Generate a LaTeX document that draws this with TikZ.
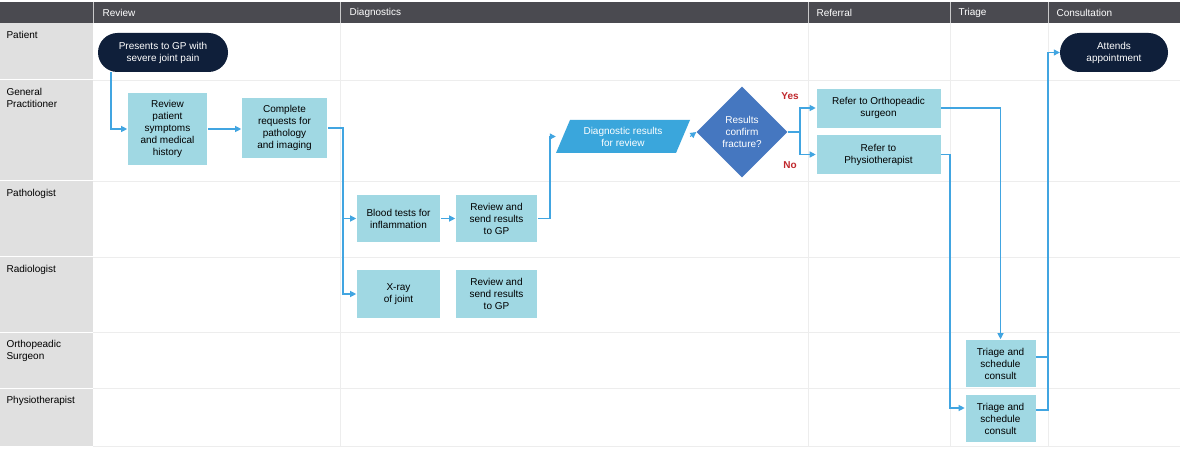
\documentclass[tikz,border=0pt]{standalone}
\usepackage{fontspec}
\setmainfont{Liberation Sans}
\usetikzlibrary{shapes.geometric,arrows.meta}
\definecolor{hdr}{HTML}{4A4A50}
\definecolor{side}{HTML}{E0E0E0}
\definecolor{grid}{HTML}{EDEDED}
\definecolor{boxc}{HTML}{A0D8E3}
\definecolor{para}{HTML}{3AA6DC}
\definecolor{dia}{HTML}{4577C0}
\definecolor{dark}{HTML}{0F1F3A}
\definecolor{arr}{HTML}{41A5E1}
\definecolor{lab}{HTML}{C0282D}
\tikzset{
 proc/.style={fill=boxc,draw=white,line width=0.6pt,align=center,inner sep=0pt,font=\fontsize{10}{12}\selectfont},
 term/.style={fill=dark,rounded corners=19.5pt,text=white,align=center,inner sep=0pt,font=\fontsize{10}{12}\selectfont},
 conn/.style={draw=arr,line width=1.1pt,-{Triangle[length=6pt,width=6pt]}},
 htxt/.style={text=white,anchor=west,font=\fontsize{10}{12}\selectfont},
 ltxt/.style={anchor=north west,align=left,font=\fontsize{10}{12}\selectfont},
}
\begin{document}
\begin{tikzpicture}[x=1pt,y=-1pt]
\useasboundingbox (0,0) rectangle (1180,454);
\fill[white] (0,0) rectangle (1180,454);
% side column & header
\fill[side] (0,23) rectangle (93,446);
\fill[hdr] (0,2) rectangle (1180,23);
\foreach \x in {93,340,808,950,1048}{\draw[white!70!hdr,line width=1pt] (\x,2)--(\x,23);}
\foreach \x in {340,808,950,1048}{\draw[grid,line width=0.8pt] (\x,23)--(\x,446);}
\foreach \y in {80,181,257,332,388}{\draw[white,line width=1pt] (0,\y)--(93,\y);\draw[grid,line width=0.8pt] (93,\y)--(1180,\y);}
\draw[grid,line width=0.8pt] (93,446)--(1180,446);
\node[htxt] (hr) at (99,13) {Review};
\node[htxt] (hd) at (346,13) {Diagnostics};
\node[htxt] (hf) at (813,13) {Referral};
\node[htxt] (ht) at (955,13) {Triage};
\node[htxt] (hc) at (1053,13) {Consultation};
\node[ltxt] (l1) at (3,28) {Patient};
\node[ltxt] (l2) at (3,85) {General\\Practitioner};
\node[ltxt] (l3) at (3,186) {Pathologist};
\node[ltxt] (l4) at (3,262) {Radiologist};
\node[ltxt] (l5) at (3,337) {Orthopeadic\\Surgeon};
\node[ltxt] (l6) at (3,393) {Physiotherapist};
% nodes
\node[term,minimum width=130pt,minimum height=39pt] (pres) at (163,52.5) {Presents to GP with\\severe joint pain};
\node[term,minimum width=108pt,minimum height=39pt] (att) at (1114,52.5) {Attends\\appointment};
\node[proc,minimum width=80pt,minimum height=73pt] (rev) at (167.5,129) {Review\\patient\\symptoms\\and medical\\history};
\node[proc,minimum width=86pt,minimum height=61pt] (comp) at (284.5,128) {Complete\\requests for\\pathology\\and imaging};
\node[proc,minimum width=84pt,minimum height=48pt] (blood) at (398.5,218.5) {Blood tests for\\inflammation};
\node[proc,minimum width=82pt,minimum height=48pt] (rs1) at (496.5,218.5) {Review and\\send results\\to GP};
\node[proc,minimum width=84pt,minimum height=49pt] (xray) at (398.5,294) {X-ray\\of joint};
\node[proc,minimum width=82pt,minimum height=49pt] (rs2) at (496.5,294) {Review and\\send results\\to GP};
\fill[para] (570,120)--(690,120)--(676,153)--(556,153)--cycle;
\node[align=center,text=white,inner sep=0pt,minimum width=134pt,minimum height=33pt,font=\fontsize{10}{12}\selectfont] (diag) at (623,136.5) {Diagnostic results\\for review};
\node[diamond,fill=dia,text=white,align=center,inner sep=0pt,minimum width=91pt,minimum height=91pt,font=\fontsize{10}{12}\selectfont] (dec) at (742,132) {Results\\confirm\\fracture?};
\node[proc,minimum width=125pt,minimum height=40pt] (ort) at (878.5,108) {Refer to Orthopeadic\\surgeon};
\node[proc,minimum width=125pt,minimum height=40pt] (phy) at (878.5,154.5) {Refer to\\Physiotherapist};
\node[proc,minimum width=71pt,minimum height=48pt] (tr1) at (1000.5,363.5) {Triage and\\schedule\\consult};
\node[proc,minimum width=71pt,minimum height=48pt] (tr2) at (1000.5,418.5) {Triage and\\schedule\\consult};
\node[text=lab,font=\bfseries\fontsize{10}{12}\selectfont] (yes) at (790,96) {Yes};
\node[text=lab,font=\bfseries\fontsize{10}{12}\selectfont] (no) at (790,165) {No};
% connectors
\draw[conn] (pres.south west -| 111,0) |- (rev.west);
\draw[conn] (rev.east) -- (rev.east -| comp.west);
\draw[conn] (comp.east) -| (343,218.5) -- (blood.west);
\draw[conn] (343,218.5) |- (xray.west);
\draw[conn] (blood.east) -- (rs1.west);
\draw[conn] (rs1.east) -| (550,136.5) -- (diag.west);
\draw[conn] (diag.east) -- (dec.west);
\coordinate (br) at (800,132);
\draw[conn] (dec.east) -- (br) |- (ort.west);
\draw[conn] (br) |- (phy.west);
\draw[conn] (ort.east) -| (tr1.north);
\draw[conn] (phy.east) -| (950,408) -- (tr2.west |- 0,408);
\coordinate (cj) at (1048,357);
\draw[draw=arr,line width=1.1pt] (tr1.east |- cj) -- (cj);
\draw[conn] (tr2.east |- 0,410) -| (cj) |- (att.west);
\end{tikzpicture}
\end{document}
